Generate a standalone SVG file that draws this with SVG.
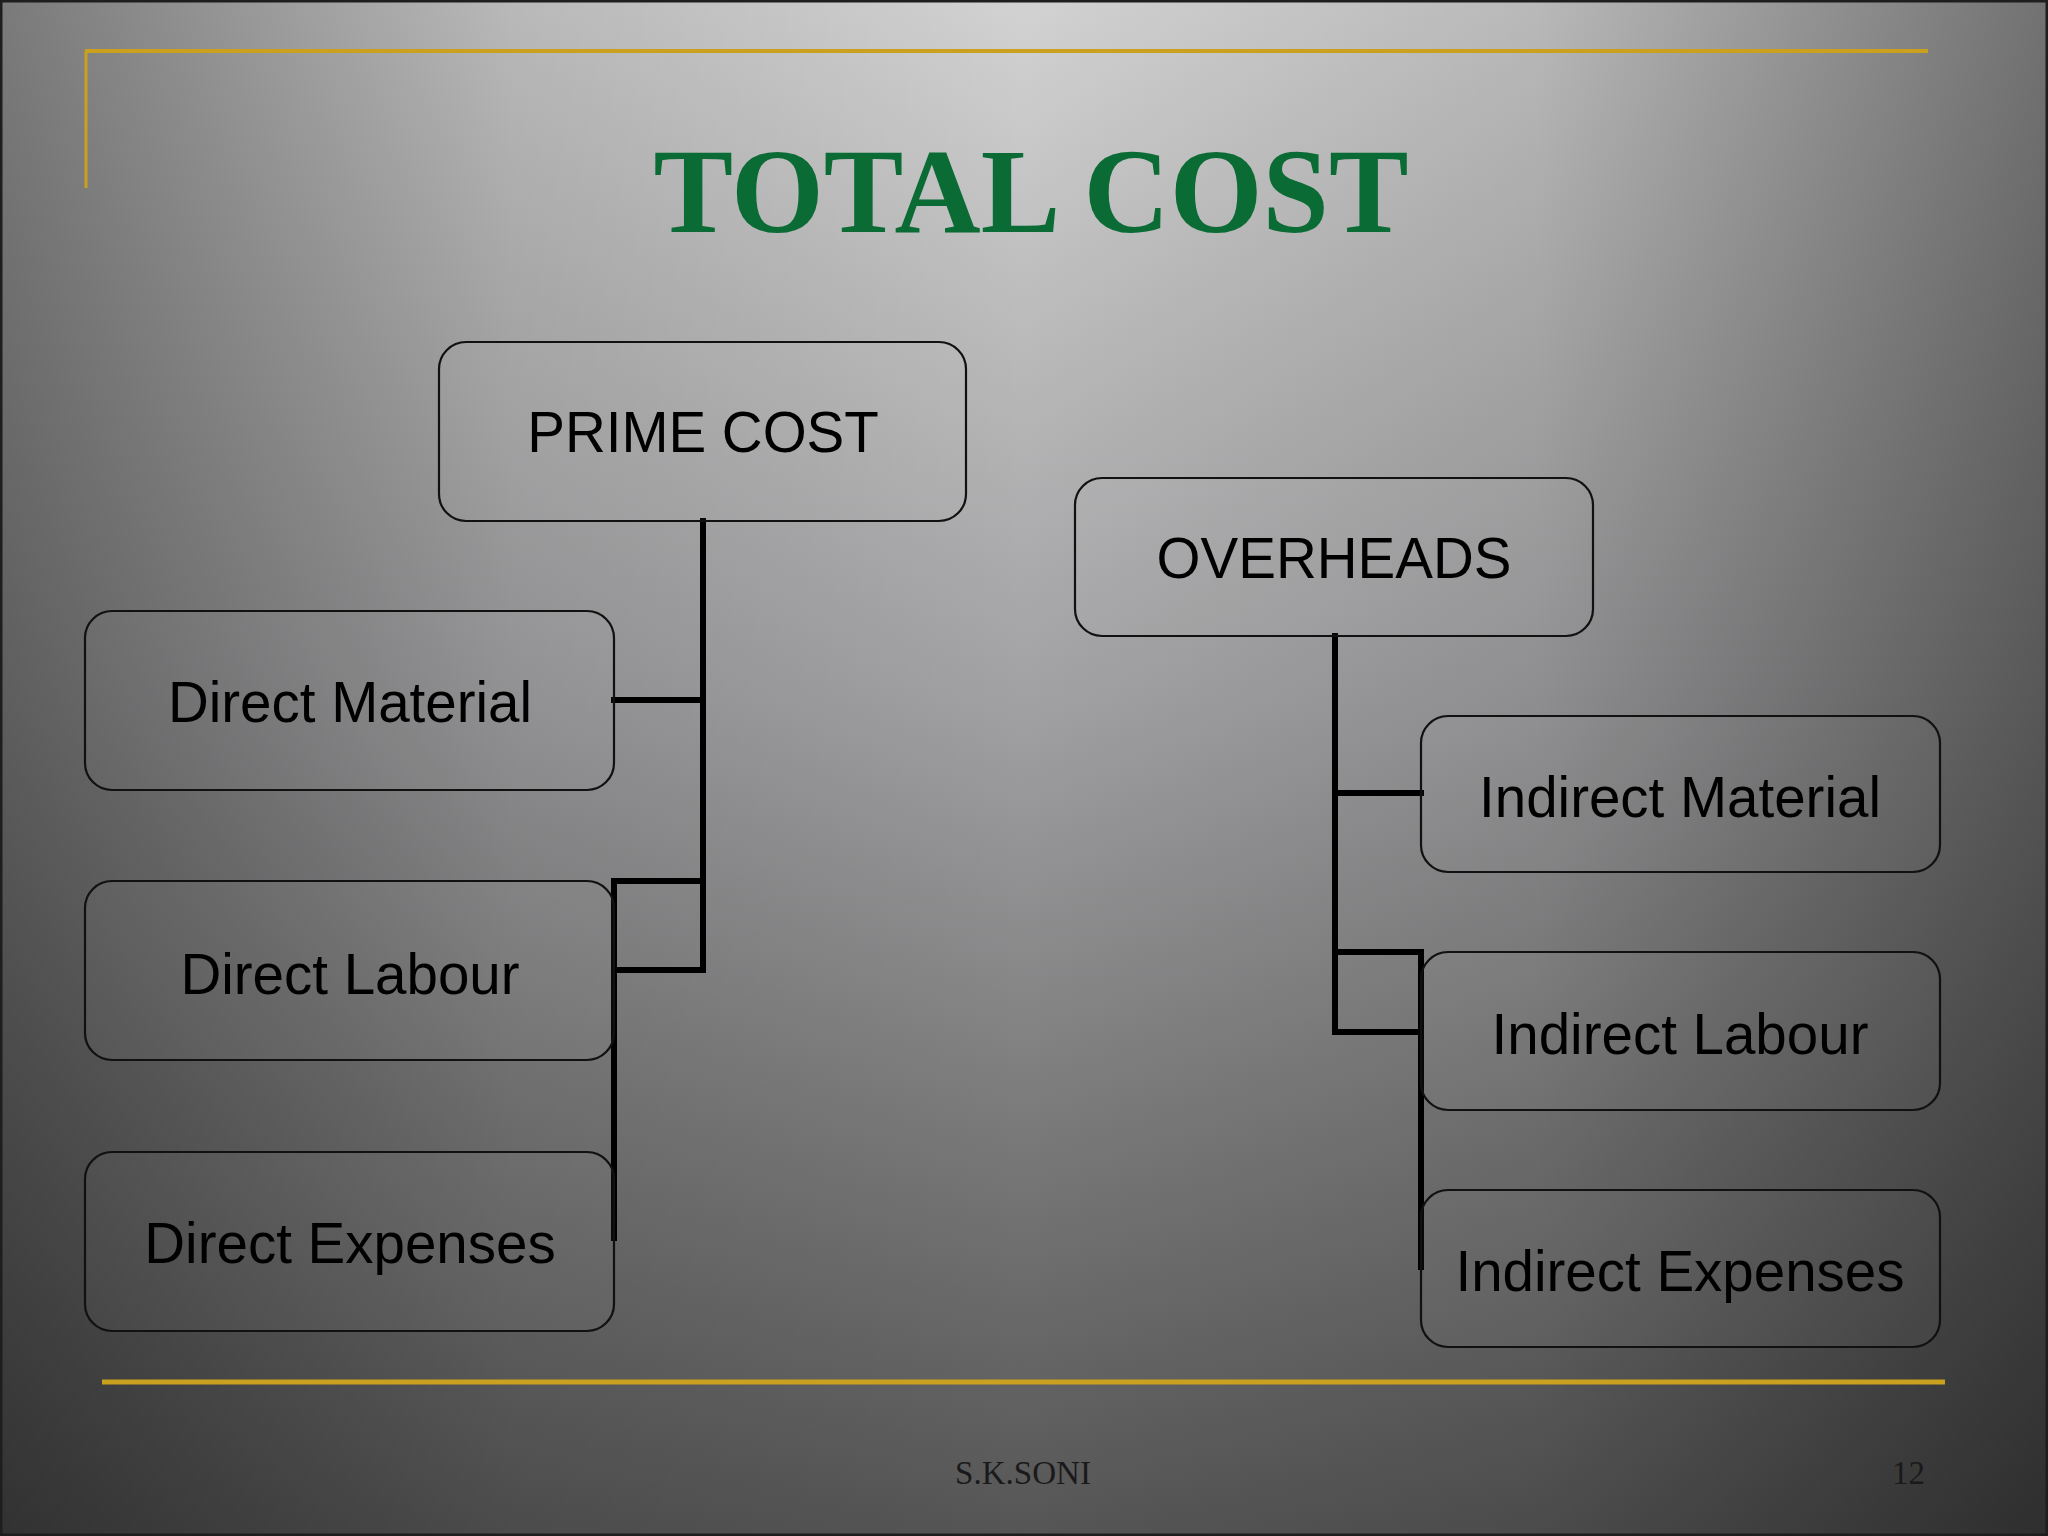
<svg xmlns="http://www.w3.org/2000/svg" width="2048" height="1536" viewBox="0 0 2048 1536">
  <defs>
    <linearGradient id="bgv" x1="0" y1="0" x2="0" y2="1">
      <stop offset="0" stop-color="#d2d2d2"/>
      <stop offset="0.45" stop-color="#a2a1a3"/>
      <stop offset="1" stop-color="#555555"/>
    </linearGradient>
    <linearGradient id="bgh" x1="0" y1="0" x2="1" y2="0">
      <stop offset="0" stop-color="#000" stop-opacity="0.42"/>
      <stop offset="0.25" stop-color="#000" stop-opacity="0.12"/>
      <stop offset="0.5" stop-color="#000" stop-opacity="0"/>
      <stop offset="0.75" stop-color="#000" stop-opacity="0.12"/>
      <stop offset="1" stop-color="#000" stop-opacity="0.46"/>
    </linearGradient>
    <style>
      .box { fill: #ffffff; fill-opacity: 0.03; stroke: #111; stroke-width: 2.2; }
      .lbl { font-family: "Liberation Sans", Arial, sans-serif; font-size: 56.5px; fill: #000; text-anchor: middle; }
      .conn { fill: none; stroke: #000; stroke-width: 6; stroke-linecap: square; stroke-linejoin: miter; }
      .gold { stroke: #c9a11e; fill: none; }
      .foot { font-family: "Liberation Serif", "Times New Roman", serif; font-size: 33px; fill: #1a1a1a; }
    </style>
  </defs>

  <rect x="0" y="0" width="2048" height="1536" fill="url(#bgv)"/>
  <rect x="0" y="0" width="2048" height="1536" fill="url(#bgh)"/>
  <rect x="1" y="1" width="2046" height="1534" fill="none" stroke="#1e1e1e" stroke-width="3"/>

  <!-- decorative frame lines -->
  <line class="gold" x1="85" y1="51" x2="1928" y2="51" stroke-width="4"/>
  <line class="gold" x1="86" y1="51" x2="86" y2="188" stroke-width="3"/>
  <line class="gold" x1="102" y1="1382" x2="1945" y2="1382" stroke-width="5"/>

  <text x="1031" y="232" text-anchor="middle" font-family="Liberation Serif, 'Times New Roman', serif" font-weight="bold" font-size="120" fill="#0b6b35" textLength="755" lengthAdjust="spacingAndGlyphs">TOTAL COST</text>

  <!-- connectors -->
  <g id="connectors">
    <polyline class="conn" points="703,521 703,970 614,970"/>
    <line class="conn" x1="614" y1="700" x2="703" y2="700"/>
    <polyline class="conn" points="703,881 614,881 614,1238"/>
    <polyline class="conn" points="1335,636 1335,1032 1421,1032"/>
    <line class="conn" x1="1335" y1="793" x2="1421" y2="793"/>
    <polyline class="conn" points="1335,952 1421,952 1421,1267"/>
  </g>

  <g id="prime-cost">
    <rect class="box" x="439" y="342" width="527" height="179" rx="27"/>
    <text class="lbl" x="703" y="452">PRIME COST</text>
  </g>
  <g id="direct-material">
    <rect class="box" x="85" y="611" width="529" height="179" rx="27"/>
    <text class="lbl" x="350" y="722">Direct Material</text>
  </g>
  <g id="direct-labour">
    <rect class="box" x="85" y="881" width="529" height="179" rx="27"/>
    <text class="lbl" x="350" y="994">Direct Labour</text>
  </g>
  <g id="direct-expenses">
    <rect class="box" x="85" y="1152" width="529" height="179" rx="27"/>
    <text class="lbl" x="350" y="1263">Direct Expenses</text>
  </g>

  <g id="overheads">
    <rect class="box" x="1075" y="478" width="518" height="158" rx="27"/>
    <text class="lbl" x="1334" y="578">OVERHEADS</text>
  </g>
  <g id="indirect-material">
    <rect class="box" x="1421" y="716" width="519" height="156" rx="27"/>
    <text class="lbl" x="1680" y="817">Indirect Material</text>
  </g>
  <g id="indirect-labour">
    <rect class="box" x="1421" y="952" width="519" height="158" rx="27"/>
    <text class="lbl" x="1680" y="1054">Indirect Labour</text>
  </g>
  <g id="indirect-expenses">
    <rect class="box" x="1421" y="1190" width="519" height="157" rx="27"/>
    <text class="lbl" x="1680" y="1291">Indirect Expenses</text>
  </g>

  <text class="foot" x="1023" y="1484" text-anchor="middle" textLength="136" lengthAdjust="spacingAndGlyphs">S.K.SONI</text>
  <text class="foot" x="1925" y="1484" text-anchor="end">12</text>
</svg>
